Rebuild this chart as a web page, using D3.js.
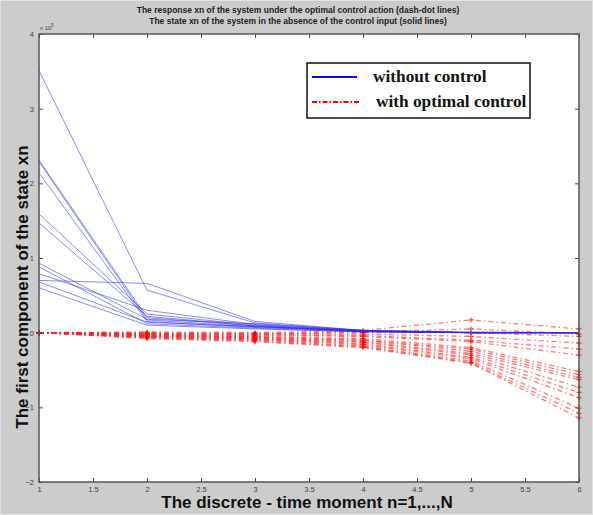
<!DOCTYPE html>
<html><head><meta charset="utf-8">
<script src="https://cdn.jsdelivr.net/npm/d3@7"></script>
<style>body{margin:0;padding:0;background:#cccccc;}svg{display:block;}</style>
</head><body>
<svg id="c" width="593" height="515"></svg>
<script>
const steps = [1, 2, 3, 4, 5, 6];
const xTicks = [1, 1.5, 2, 2.5, 3, 3.5, 4, 4.5, 5, 5.5, 6];
const yTicks = [-2, -1, 0, 1, 2, 3, 4];
const titles = ["The response xn of the system under the optimal control action (dash-dot lines)",
                "The state xn of the system in the absence of the control input (solid lines)"];
const xLabel = "The discrete - time moment n=1,...,N";
const yLabel = "The first component of the state xn";
const legendLabels = ["without control", "with optimal control"];

// values in units of 10^5
const withoutControl = [
  [3.51, 0.57, 0.13, 0.03, 0.01, 0.00],
  [2.31, 0.20, 0.09, 0.02, 0.00, 0.00],
  [2.29, 0.17, 0.08, 0.02, 0.00, 0.00],
  [2.14, 0.15, 0.07, 0.02, 0.00, 0.00],
  [1.59, 0.25, 0.10, 0.03, 0.00, 0.00],
  [1.47, 0.22, 0.09, 0.02, 0.00, 0.00],
  [0.93, 0.18, 0.12, 0.03, 0.00, 0.00],
  [0.88, 0.12, 0.06, 0.01, 0.00, 0.00],
  [0.79, 0.30, 0.11, 0.02, 0.00, 0.00],
  [0.70, 0.66, 0.15, 0.03, 0.00, 0.00],
  [0.68, 0.14, 0.08, 0.02, 0.00, 0.00],
  [0.60, 0.10, 0.05, 0.01, 0.00, 0.00]
];
const withControl = [
  [0.00, 0.01, 0.00, 0.03, 0.17, 0.05],
  [0.00, 0.00, -0.01, 0.01, 0.05, -0.02],
  [0.00, -0.01, -0.02, 0.00, 0.00, -0.05],
  [0.00, -0.01, -0.02, -0.02, -0.05, -0.14],
  [0.00, -0.02, -0.03, -0.04, -0.10, -0.22],
  [0.00, -0.02, -0.04, -0.05, -0.12, -0.30],
  [0.00, -0.03, -0.05, -0.08, -0.20, -0.52],
  [0.00, -0.03, -0.06, -0.10, -0.22, -0.56],
  [0.00, -0.04, -0.06, -0.10, -0.25, -0.60],
  [0.00, -0.04, -0.07, -0.12, -0.28, -0.63],
  [0.00, -0.05, -0.08, -0.13, -0.30, -0.73],
  [0.00, -0.05, -0.08, -0.15, -0.33, -0.80],
  [0.00, -0.06, -0.09, -0.16, -0.35, -0.87],
  [0.00, -0.06, -0.10, -0.18, -0.38, -1.01],
  [0.00, -0.07, -0.11, -0.19, -0.40, -1.08],
  [0.00, -0.08, -0.12, -0.20, -0.41, -1.14]
];

const svg = d3.select("#c");
const L = 39, R = 579, T = 34, B = 482;
const x = d3.scaleLinear().domain([1, 6]).range([L, R]);
const y = d3.scaleLinear().domain([-2, 4]).range([B, T]);

svg.append("rect").attr("width", 593).attr("height", 515).attr("fill", "#cccccc");
svg.append("rect").attr("x", 0.5).attr("y", 0.5).attr("width", 592).attr("height", 514)
  .attr("fill", "none").attr("stroke", "#e2e2e2").attr("stroke-width", 1);
svg.append("rect").attr("x", L).attr("y", T).attr("width", R - L).attr("height", B - T).attr("fill", "#fff");

// titles
titles.forEach((t, i) => {
  svg.append("text").attr("x", 298).attr("y", 13 + i * 11).attr("text-anchor", "middle")
    .attr("font-family", "Liberation Sans, Arial, sans-serif").attr("font-size", 8.5)
    .attr("font-weight", "bold").attr("fill", "#222").text(t);
});

const line = d3.line().x((d, i) => x(steps[i])).y(d => y(d));
const plot = svg.append("g");

withControl.forEach(s => {
  plot.append("path").attr("d", line(s)).attr("fill", "none")
    .attr("stroke", "#ff2020").attr("stroke-opacity", 0.6).attr("stroke-width", 1.3)
    .attr("stroke-dasharray", "5,3,1.5,3");
  plot.selectAll(null).data(s).enter().append("path")
    .attr("d", (d, i) => `M${x(steps[i]) - 2.5},${y(d)}h5M${x(steps[i])},${y(d) - 2.5}v5`)
    .attr("stroke", "#ff0000").attr("stroke-opacity", 0.7).attr("stroke-width", 1.2);
});
withoutControl.forEach(s => {
  plot.append("path").attr("d", line(s)).attr("fill", "none")
    .attr("stroke", "#2a2ae8").attr("stroke-opacity", 0.55).attr("stroke-width", 1);
});

// axes
const ax = svg.append("g");
const xb = d3.axisBottom(x).tickValues(xTicks).tickSize(-4).tickPadding(5).tickFormat(d3.format("~g"));
const xt = d3.axisTop(x).tickValues(xTicks).tickSize(-4).tickFormat("");
const yl = d3.axisLeft(y).tickValues(yTicks).tickSize(-4).tickPadding(5).tickFormat(d3.format("~g"));
const yr = d3.axisRight(y).tickValues(yTicks).tickSize(-4).tickFormat("");
[ [xb, `translate(0,${B})`], [xt, `translate(0,${T})`], [yl, `translate(${L},0)`], [yr, `translate(${R},0)`] ]
  .forEach(([a, tr]) => {
    const g = ax.append("g").attr("transform", tr).call(a);
    g.select(".domain").remove();
    g.selectAll("line").attr("stroke", "#444");
    g.selectAll("text").attr("font-size", 7.5).attr("fill", "#444").attr("font-family", "Liberation Sans Narrow, Liberation Sans, Arial, sans-serif");
  });
svg.append("rect").attr("x", L).attr("y", T).attr("width", R - L).attr("height", B - T)
  .attr("fill", "none").attr("stroke", "#555").attr("stroke-width", 1.5);

svg.append("text").attr("x", L + 1).attr("y", T - 4).attr("font-size", 6)
  .attr("font-family", "Liberation Sans, Arial, sans-serif").attr("fill", "#444")
  .html('x 10<tspan dy="-3" font-size="4.5">5</tspan>');

// axis labels
svg.append("text").attr("x", 307).attr("y", 508).attr("text-anchor", "middle")
  .attr("font-family", "Liberation Sans, Arial, sans-serif").attr("font-weight", "bold")
  .attr("font-size", 17).attr("fill", "#111").text(xLabel);
svg.append("text").attr("transform", "translate(28,287) rotate(-90)").attr("text-anchor", "middle")
  .attr("font-family", "Liberation Sans, Arial, sans-serif").attr("font-weight", "bold")
  .attr("font-size", 17).attr("fill", "#111").text(yLabel);

// legend
const lg = svg.append("g");
lg.append("rect").attr("x", 307).attr("y", 63).attr("width", 223).attr("height", 55)
  .attr("fill", "#fff").attr("stroke", "#111").attr("stroke-width", 1.5);
lg.append("line").attr("x1", 312).attr("x2", 357).attr("y1", 77).attr("y2", 77)
  .attr("stroke", "#0000ff").attr("stroke-width", 2);
lg.append("line").attr("x1", 312).attr("x2", 360).attr("y1", 102).attr("y2", 102)
  .attr("stroke", "#ff0000").attr("stroke-width", 2).attr("stroke-dasharray", "5,2,1.5,2");
legendLabels.forEach((t, i) => {
  lg.append("text").attr("x", i === 0 ? 373 : 376).attr("y", 82 + i * 25)
    .attr("font-family", "Liberation Serif, Times New Roman, serif").attr("font-weight", "bold")
    .attr("font-size", 17.3).attr("fill", "#111").text(t);
});
</script>
</body></html>
